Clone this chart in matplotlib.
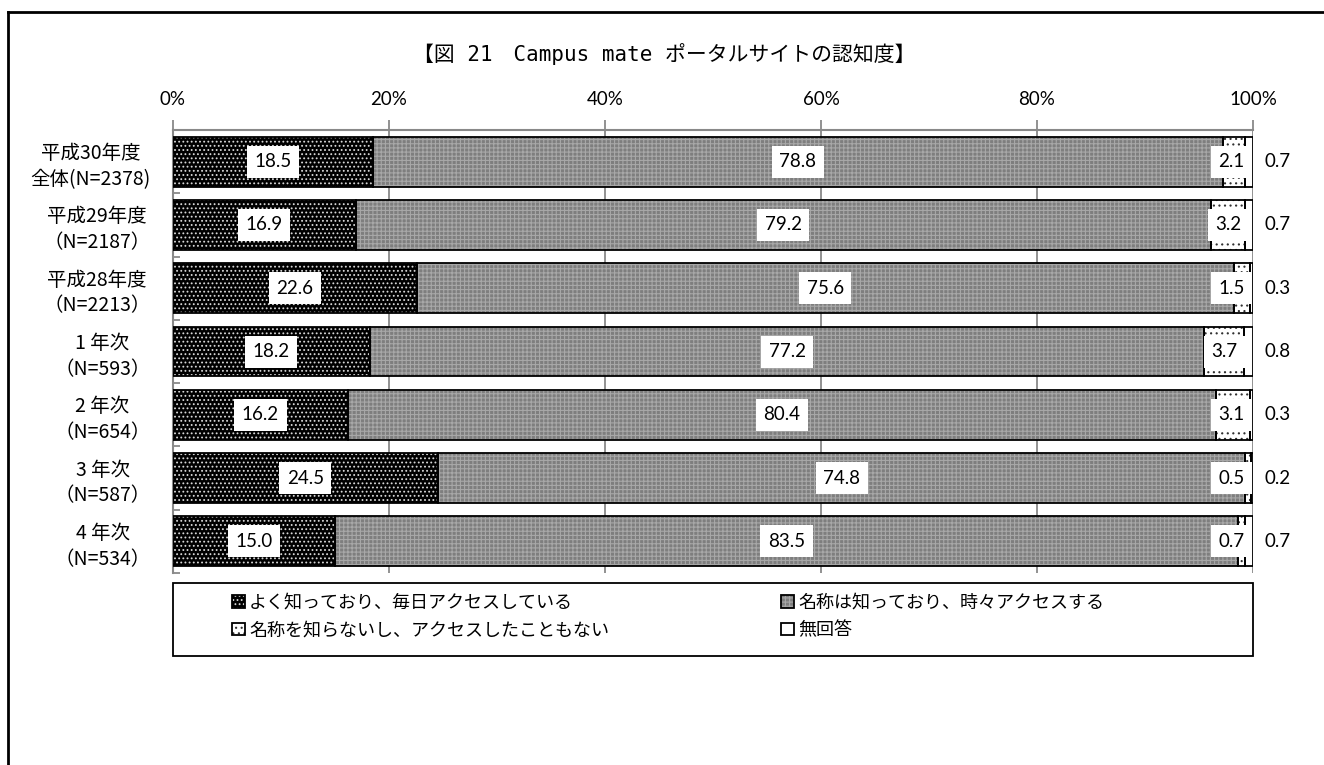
import matplotlib
matplotlib.use('Agg')
import matplotlib.pyplot as plt
from matplotlib.patches import Rectangle
from matplotlib.lines import Line2D
import numpy as np

# ---------------- data ----------------
categories = ['平成30年度\n全体(N=2378)', '平成29年度\n（N=2187）', '平成28年度\n（N=2213）',
              '1 年次\n（N=593）', '2 年次\n（N=654）', '3 年次\n（N=587）', '4 年次\n（N=534）']
daily = [18.5, 16.9, 22.6, 18.2, 16.2, 24.5, 15.0]
sometimes = [78.8, 79.2, 75.6, 77.2, 80.4, 74.8, 83.5]
unknown = [2.1, 3.2, 1.5, 3.7, 3.1, 0.5, 0.7]
no_answer = [0.7, 0.7, 0.3, 0.8, 0.3, 0.2, 0.7]
series_names = ['よく知っており、毎日アクセスしている', '名称は知っており、時々アクセスする',
                '名称を知らないし、アクセスしたこともない', '無回答']
x_ticks = [0, 20, 40, 60, 80, 100]
x_tick_labels = ['0%', '20%', '40%', '60%', '80%', '100%']
title = '【図 21　Campus mate ポータルサイトの認知度】'

plt.rcParams['font.family'] = ['Noto Sans CJK JP', 'DejaVu Sans']
plt.rcParams['hatch.linewidth'] = 0.8

W, H = 1324, 765
fig = plt.figure(figsize=(W / 100, H / 100), dpi=100)
fig.patch.set_facecolor('white')

ax = fig.add_axes([173 / W, 1 - 573 / H, 1080 / W, 443 / H])

raw = np.array([daily, sometimes, unknown, no_answer], dtype=float)
pct = raw / raw.sum(axis=0) * 100
n = len(categories)
y = np.arange(n)

styles = [
    dict(face='black', hcol='#d8d8d8', hatch='....'),
    dict(face='#7e7e7e', hcol='#a8a8a8', hatch='++++'),
    dict(face='white', hcol='#303030', hatch='...'),
    dict(face='white', hcol='white', hatch=None),
]

VAL_FS = 13.5
left = np.zeros(n)
handles = []
for i, st in enumerate(styles):
    vals = pct[i]
    base = ax.barh(y, vals, left=left, height=0.79, color=st['face'], edgecolor=st['hcol'],
                   hatch=st['hatch'], linewidth=0, zorder=3)
    outline = ax.barh(y, vals, left=left, height=0.79, fill=False, edgecolor='black',
                      linewidth=1.3, zorder=4)
    handles.append((base.patches[0], outline.patches[0]))
    for j in range(n):
        txt = f'{raw[i][j]:.1f}'
        if i < 3:
            cx = left[j] + vals[j] / 2
            if i == 2:
                cx = min(cx, 98.0)
            ax.text(cx, y[j], txt, ha='center', va='center', fontsize=VAL_FS, family='Lato',
                    bbox=dict(boxstyle='square,pad=0.4', fc='white', ec='none'), zorder=6)
        else:
            ax.text(102.3, y[j], txt, ha='center', va='center', fontsize=VAL_FS, family='Lato',
                    clip_on=False, zorder=6)
    left = left + vals

ax.set_xlim(0, 100)
ax.set_ylim(n - 0.5, -0.5)
ax.xaxis.tick_top()
ax.set_xticks(x_ticks, x_tick_labels)
for lab in ax.get_xticklabels():
    lab.set_family('Lato')
ax.tick_params(axis='x', length=7, color='#898989', width=1.3, pad=9, labelsize=13.5)
ax.set_yticks(y, categories)
for lab in ax.get_yticklabels():
    lab.set_multialignment('center')
    lab.set_linespacing(1.3)
ax.tick_params(axis='y', which='major', length=0, pad=16, labelsize=14)
ax.set_yticks(np.arange(-0.5, n, 1.0), minor=True)
ax.tick_params(axis='y', which='minor', direction='in', length=5, color='#898989', width=1.3)
ax.grid(axis='x', color='#898989', lw=1.3)
ax.set_axisbelow(True)
for s in ['right', 'bottom']:
    ax.spines[s].set_visible(False)
for s in ['top', 'left']:
    ax.spines[s].set_color('#898989')
    ax.spines[s].set_linewidth(1.5)

fig.text(664 / W, 1 - 54 / H, title, ha='center', va='center', fontsize=15,
         family=['DejaVu Sans Mono', 'Noto Sans CJK JP'])

# figure border (top and left)
fig.add_artist(Line2D([8 / W, 1], [1 - 12 / H, 1 - 12 / H], transform=fig.transFigure, color='black', lw=2))
fig.add_artist(Line2D([8 / W, 8 / W], [0, 1 - 12 / H], transform=fig.transFigure, color='black', lw=2))

# legend frame
fig.add_artist(Rectangle((173 / W, 1 - 656 / H), 1080 / W, 73 / H, transform=fig.transFigure,
                         fill=False, ec='black', lw=1.3))
leg_kw = dict(loc='upper left', frameon=False, fontsize=13, handlelength=0.7, handleheight=0.7,
              handletextpad=0.25, labelspacing=0.52, borderpad=0, borderaxespad=0)
fig.legend([handles[0], handles[2]], [series_names[0], series_names[2]],
           bbox_to_anchor=(232 / W, 1 - 594 / H), **leg_kw)
fig.legend([handles[1], handles[3]], [series_names[1], series_names[3]],
           bbox_to_anchor=(781 / W, 1 - 594 / H), **leg_kw)

fig.savefig('out.png', dpi=100)
